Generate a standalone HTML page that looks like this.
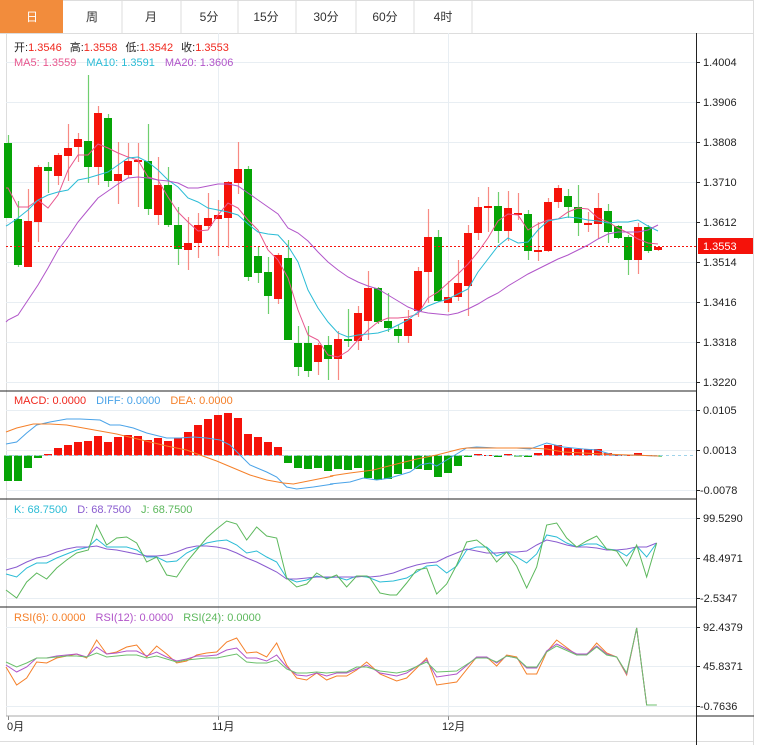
<!DOCTYPE html>
<html><head><meta charset="utf-8">
<style>
html,body{margin:0;padding:0;background:#fff;width:759px;height:745px;overflow:hidden}
body{font-family:"Liberation Sans","Noto Sans CJK SC",sans-serif;}
svg text{font-family:"Liberation Sans","Noto Sans CJK SC",sans-serif;}
</style></head><body>
<svg id="s" width="759" height="745" xmlns="http://www.w3.org/2000/svg">
<rect x="0" y="0" width="759" height="745" fill="#fff"/>
<rect x="0.5" y="0.5" width="753" height="33" fill="#fff" stroke="#ddd"/>
<rect x="0" y="0" width="63" height="33" fill="#f28c3c"/>
<g stroke="#ddd"><line x1="122" y1="0" x2="122" y2="33"/><line x1="181" y1="0" x2="181" y2="33"/><line x1="238" y1="0" x2="238" y2="33"/><line x1="296" y1="0" x2="296" y2="33"/><line x1="356" y1="0" x2="356" y2="33"/><line x1="414" y1="0" x2="414" y2="33"/><line x1="472" y1="0" x2="472" y2="33"/></g>
<g font-size="12" text-anchor="middle" fill="#333">
<text x="32" y="21" fill="#fff">日</text><text x="92" y="21">周</text><text x="151" y="21">月</text><text x="209" y="21">5分</text><text x="266" y="21">15分</text><text x="326" y="21">30分</text><text x="385" y="21">60分</text><text x="443" y="21">4时</text>
</g>
<line x1="753.5" y1="33" x2="753.5" y2="745" stroke="#ddd"/>
<line x1="6.5" y1="33" x2="6.5" y2="716" stroke="#ddd"/>
<line x1="0" y1="741.5" x2="754" y2="741.5" stroke="#ddd"/>
<g id="grid" stroke="#e8eef3" stroke-width="1"></g>
<g id="plot"></g>
<line x1="696.5" y1="33" x2="696.5" y2="745" stroke="#222"/>
<line x1="0" y1="391" x2="696" y2="391" stroke="#222"/>
<line x1="0" y1="499" x2="696" y2="499" stroke="#222"/>
<line x1="0" y1="607" x2="696" y2="607" stroke="#222"/>
<line x1="6" y1="716" x2="754" y2="716" stroke="#aaa"/>
<line x1="696" y1="716" x2="754" y2="716" stroke="#222"/>
<g font-size="11" fill="#222" id="ax">
<text x="703" y="66">1.4004</text><text x="703" y="106">1.3906</text><text x="703" y="146">1.3808</text><text x="703" y="186">1.3710</text><text x="703" y="226">1.3612</text><text x="703" y="266">1.3514</text><text x="703" y="306">1.3416</text><text x="703" y="346">1.3318</text><text x="703" y="386">1.3220</text>
<text x="703" y="414">0.0105</text><text x="703" y="454">0.0013</text><text x="700" y="494">-0.0078</text>
<text x="703" y="522">99.5290</text><text x="703" y="562">48.4971</text><text x="700" y="602">-2.5347</text>
<text x="703" y="631">92.4379</text><text x="703" y="670">45.8371</text><text x="700" y="710">-0.7636</text>
</g>
<rect x="698" y="238" width="55" height="16" fill="#f5120a"/>
<text x="703" y="250" font-size="11" fill="#fff">1.3553</text>
<g font-size="11">
<text x="7" y="730" fill="#222">0月</text><text x="212" y="730" fill="#222">11月</text><text x="442" y="730" fill="#222">12月</text>
<text x="14" y="51"><tspan fill="#222">开:</tspan><tspan fill="#f0281e">1.3546</tspan><tspan fill="#222" dx="8">高:</tspan><tspan fill="#f0281e">1.3558</tspan><tspan fill="#222" dx="8">低:</tspan><tspan fill="#f0281e">1.3542</tspan><tspan fill="#222" dx="8">收:</tspan><tspan fill="#f0281e">1.3553</tspan></text>
<text x="14" y="66"><tspan fill="#e8578e">MA5: 1.3559</tspan><tspan fill="#2bbcd6" dx="10">MA10: 1.3591</tspan><tspan fill="#b155c9" dx="10">MA20: 1.3606</tspan></text>
<text x="14" y="404"><tspan fill="#f0281e">MACD: 0.0000</tspan><tspan fill="#4aa3e8" dx="10">DIFF: 0.0000</tspan><tspan fill="#f5802a" dx="10">DEA: 0.0000</tspan></text>
<text x="14" y="513"><tspan fill="#2bbcd6">K: 68.7500</tspan><tspan fill="#8a5cd0" dx="10">D: 68.7500</tspan><tspan fill="#5cb85c" dx="10">J: 68.7500</tspan></text>
<text x="14" y="621"><tspan fill="#f5802a">RSI(6): 0.0000</tspan><tspan fill="#b155c9" dx="10">RSI(12): 0.0000</tspan><tspan fill="#5cb85c" dx="10">RSI(24): 0.0000</tspan></text>
</g>
</svg>
<script>
var NS="http://www.w3.org/2000/svg";
function el(p,t,a){var e=document.createElementNS(NS,t);for(var k in a)e.setAttribute(k,a[k]);p.appendChild(e);return e;}
var g=document.getElementById('grid'),P=document.getElementById('plot');
[62,102,142,182,222,262,302,342,382,410,450,490,518,558,598,627,666,706].forEach(function(y){el(g,'line',{x1:6,y1:y+.5,x2:696,y2:y+.5});el(g,'line',{x1:696,y1:y+.5,x2:700,y2:y+.5,stroke:'#222'});});
[218,448].forEach(function(x){el(g,'line',{x1:x+.5,y1:33,x2:x+.5,y2:716});el(g,'line',{x1:x+.5,y1:716,x2:x+.5,y2:720,stroke:'#888'});});
el(g,'line',{x1:8.5,y1:716,x2:8.5,y2:720,stroke:'#888'});
var R='#f5120a',G='#06a406',RW='#f88a84',GW='#6fcf6f';
var C=[[143,218,135,218,'g'],[219,265,201,267,'g'],[221,267,189,267,'r'],[167,222,165,242,'r'],[167,171,162,193,'g'],[155,176,153,185,'r'],[148,156,124,181,'r'],[139,147,133,162,'r'],[141,167,75,183,'g'],[113,167,106,185,'r'],[118,181,114,187,'g'],[174,181,142,204,'r'],[161,175,143,178,'r'],[160,162,143,207,'r'],[161,209,124,215,'g'],[185,215,157,225,'r'],[185,225,167,227,'g'],[225,249,207,265,'g'],[243,250,217,270,'r'],[225,243,213,258,'r'],[218,226,193,230,'r'],[215,219,200,256,'r'],[182,218,181,248,'r'],[169,183,142,194,'r'],[169,277,166,281,'g'],[256,273,247,283,'g'],[272,296,257,314,'g'],[255,299,253,304,'r'],[258,340,240,340,'g'],[343,367,326,376,'g'],
[343,371,326,377,'g'],[345,362,343,375,'r'],[345,359,336,380,'g'],[339,359,331,380,'r'],[339,341,309,347,'g'],[313,341,306,350,'r'],[288,321,271,340,'r'],[288,322,287,324,'g'],[321,328,293,332,'g'],[329,336,325,343,'g'],[319,336,310,343,'r'],[271,311,267,317,'r'],[237,272,209,303,'r'],[237,301,230,302,'g'],[297,303,281,312,'r'],[283,297,260,301,'r'],[233,286,225,316,'r'],[207,233,197,240,'r'],[206,208,187,232,'r'],[206,231,192,243,'g'],[208,231,191,241,'r'],[213,214,193,220,'r'],[214,251,210,260,'g'],[250,251,222,261,'r'],[202,251,198,252,'r'],[188,202,185,208,'r'],[196,207,189,218,'g'],[207,223,185,236,'g'],[223,224,212,232,'r'],[208,224,193,239,'r'],[211,232,204,243,'g'],[226,238,225,239,'g'],[237,260,235,275,'g'],[227,260,223,274,'r'],[227,251,225,253,'g'],[247,250,246,251,'r']];
C.forEach(function(c,i){var x=8+i*10;var col=c[4]=='r'?R:G;var w=c[4]=='r'?RW:GW;
el(P,'line',{x1:x+.5,y1:c[2],x2:x+.5,y2:c[3],stroke:w,'stroke-width':1.2});
el(P,'rect',{x:x-4,y:c[0],width:8,height:Math.max(2,c[1]-c[0]),fill:col});});
el(P,'line',{x1:6,y1:246.5,x2:697,y2:246.5,stroke:'#f5120a','stroke-dasharray':'2,2'});
function pl(pts,col,w){el(P,'polyline',{points:pts.map(function(p){return p.join(',')}).join(' '),fill:'none',stroke:col,'stroke-width':w||1});}
function idx(arr){return arr.map(function(y,i){return [8+i*10,y];});}
pl([[6,188]].concat(idx([188,207,207,200,208,195,170,155,155,144,148,153,157,160,177,180,197,212,222,231,230,215,203,208,220,230,250,260,278,310,335,340,355,357,351,340,330,322,318,318,317,314,298,292,283,274,264,252,238,221,214,215,230,224,220,219,212,208,209,218,222,228,233,239,243,244])),'#e8578e');
pl([[6,226]].concat(idx([225,218,210,200,195,192,190,180,178,175,172,165,158,157,162,170,180,187,198,202,208,210,212,215,224,232,234,235,246,262,290,308,322,333,337,335,334,333,330,325,320,312,306,302,299,294,289,272,259,246,238,243,242,230,221,219,217,218,220,221,223,222,222,220,226,231])),'#2bbcd6');
pl([[6,322]].concat(idx([320,315,300,285,268,250,237,222,210,198,191,184,178,177,178,180,181,183,188,188,186,184,184,186,193,200,207,214,228,233,241,252,262,270,277,282,286,289,295,301,307,311,313,314,315,313,309,304,298,293,286,280,274,269,264,259,255,250,245,239,234,232,232,232,230,225])),'#b155c9');
var Z=455.5;
var M=[481,481,468,458,454,448,445,442,441,436,442,437,435,436,440,438,441,438,432,425,419,415,413,418,434,437,442,447,463,468,469,468,471,469,470,468,478,480,479,474,469,469,470,477,473,466,457,454,455,457,454,456,457,453,445,445,448,449,449,449,453,455,455,453,455,456];
M.forEach(function(y,i){var x=8+i*10;var up=y<Z;var h=Math.abs(y-Z);if(h<1)h=1;
el(P,'rect',{x:x-4,y:up?y:Z,width:8,height:h,fill:up?R:G});});
el(P,'line',{x1:6,y1:Z,x2:696,y2:Z,stroke:'#9fd3ea','stroke-dasharray':'3,3'});
function zx(arr,ox,oy){return arr.map(function(p){return [ox+p[0]/3,p[1]];});}
pl(zx([[18,444],[50,442],[80,433],[110,425],[150,422],[200,419],[240,419],[300,420],[330,425],[360,425],[400,428],[440,433],[500,438],[540,438],[580,437],[620,438],[660,440],[690,445],[720,455],[750,465],[800,472],[830,477],[860,487],[890,489],[940,487],[1000,484]],0).concat(zx([[0,484],[60,482],[100,478],[140,480],[180,478],[240,472],[270,465],[300,463],[320,466],[350,460],[380,454],[410,448],[440,447],[500,448],[560,448],[600,449],[650,443],[700,447],[760,449],[800,450],[850,455],[900,455],[985,456]],330)),'#4aa3e8');
pl(zx([[18,432],[50,428],[100,424],[150,424],[200,425],[250,428],[300,431],[350,434],[400,438],[450,442],[500,446],[560,450],[600,455],[650,461],[700,468],[750,475],[800,480],[850,483],[880,484],[940,480],[1000,476]],0).concat(zx([[0,476],[60,473],[130,470],[200,464],[260,459],[320,455],[390,449],[410,448],[450,448],[550,448],[600,448],[650,449],[700,452],[760,453],[820,454],[985,456]],330)),'#f5802a');
pl(zx([[18,574],[50,577],[80,568],[110,563],[140,563],[170,558],[200,554],[230,550],[265,547],[290,539],[320,547],[350,547],[380,547],[410,550],[440,557],[470,557],[500,562],[530,561],[560,553],[590,548],[620,543],[650,541],[680,540],[710,545],[740,553],[770,551],[800,557],[830,562],[860,578],[890,582],[920,580],[950,576],[980,578],[1010,577],[1040,580],[1070,576],[1100,577]],0).concat(zx([[0,578],[30,582],[70,581],[110,578],[140,572],[170,566],[200,565],[230,573],[260,566],[290,550],[320,547],[350,547],[380,556],[410,552],[440,557],[470,563],[500,554],[530,535],[560,537],[590,543],[620,547],[650,544],[680,544],[710,549],[740,550],[770,556],[800,546],[830,557],[860,543]],370)),'#2bbcd6');
pl(zx([[18,570],[50,567],[80,562],[110,558],[140,556],[170,552],[200,549],[230,547],[265,547],[290,546],[320,549],[350,550],[380,552],[410,554],[440,556],[470,556],[500,555],[530,552],[560,548],[590,546],[620,546],[650,547],[680,549],[710,553],[740,558],[770,562],[800,567],[830,572],[860,579],[890,579],[920,578],[950,577],[980,577],[1010,577],[1040,577],[1070,577],[1100,576]],0).concat(zx([[0,577],[30,576],[70,573],[110,568],[140,565],[170,563],[200,562],[230,557],[260,553],[290,549],[320,551],[350,553],[380,553],[410,552],[440,552],[470,551],[500,545],[530,540],[560,542],[590,545],[620,547],[650,547],[680,548],[710,550],[740,550],[770,549],[800,547],[830,547],[860,543]],370)),'#8a5cd0');
pl(zx([[18,590],[50,598],[80,582],[110,573],[140,579],[170,568],[200,560],[230,553],[265,550],[290,525],[320,545],[350,538],[380,537],[410,543],[440,562],[470,557],[500,575],[530,577],[560,562],[590,550],[620,538],[650,529],[680,521],[710,524],[740,540],[770,527],[800,536],[830,538],[860,578],[890,587],[920,584],[950,573],[980,579],[1010,575],[1040,587],[1070,576],[1100,576]],0).concat(zx([[0,578],[30,593],[60,595],[80,595],[110,583],[140,570],[170,568],[200,594],[230,584],[260,565],[290,542],[320,540],[350,548],[380,562],[410,552],[440,566],[470,588],[500,567],[530,525],[560,523],[590,538],[620,547],[650,541],[680,536],[710,549],[740,551],[770,566],[800,545],[830,577],[860,543]],370)),'#5cb85c');
pl(zx([[18,667],[50,685],[80,678],[110,662],[140,663],[170,658],[200,656],[230,654],[260,658],[290,640],[320,654],[350,652],[380,647],[410,645],[440,657],[470,646],[500,654],[530,663],[560,661],[590,655],[620,653],[650,652],[680,642],[710,638],[740,653],[770,652],[800,657],[830,643],[860,665],[890,678],[920,680],[950,673],[980,680],[1010,676],[1040,676],[1070,670],[1100,662]],0).concat(zx([[0,665],[30,674],[80,681],[110,678],[170,658],[200,685],[260,682],[320,657],[350,657],[380,666],[410,655],[440,657],[470,674],[500,674],[530,652],[560,640],[620,655],[650,655],[680,643],[710,653],[740,657],[770,675],[800,628],[830,705],[860,705]],370)),'#f5802a');
pl(zx([[18,665],[50,672],[80,667],[110,658],[140,658],[170,656],[200,655],[230,654],[260,657],[290,647],[320,654],[350,653],[380,651],[410,651],[440,656],[470,652],[500,657],[530,661],[560,659],[590,656],[620,656],[650,655],[680,650],[710,648],[740,658],[770,658],[800,661],[830,655],[860,667],[890,675],[920,676],[950,673],[980,676],[1010,673],[1040,673],[1070,669],[1100,665]],0).concat(zx([[0,667],[30,673],[80,676],[110,673],[170,660],[200,677],[260,674],[320,657],[350,657],[380,663],[410,656],[440,658],[470,668],[500,668],[530,651],[560,644],[620,654],[650,654],[680,646],[710,654],[740,657],[770,674],[800,628],[830,705],[860,705]],370)),'#b155c9');
pl(zx([[18,662],[50,667],[80,663],[110,658],[140,658],[170,657],[200,656],[230,656],[260,657],[290,653],[320,657],[350,656],[380,655],[410,655],[440,658],[470,656],[500,659],[530,662],[560,660],[590,659],[620,658],[650,658],[680,656],[710,654],[740,662],[770,663],[800,663],[830,660],[860,669],[890,673],[920,673],[950,672],[980,673],[1010,672],[1040,672],[1070,667],[1100,667]],0).concat(zx([[0,668],[30,671],[80,673],[110,671],[170,662],[200,672],[260,671],[320,658],[350,658],[380,662],[410,656],[440,658],[470,667],[500,667],[530,652],[560,646],[620,655],[650,655],[680,647],[710,655],[740,657],[770,673],[800,628],[830,705],[860,705]],370)),'#6cc06c');
</script>
</body></html>
